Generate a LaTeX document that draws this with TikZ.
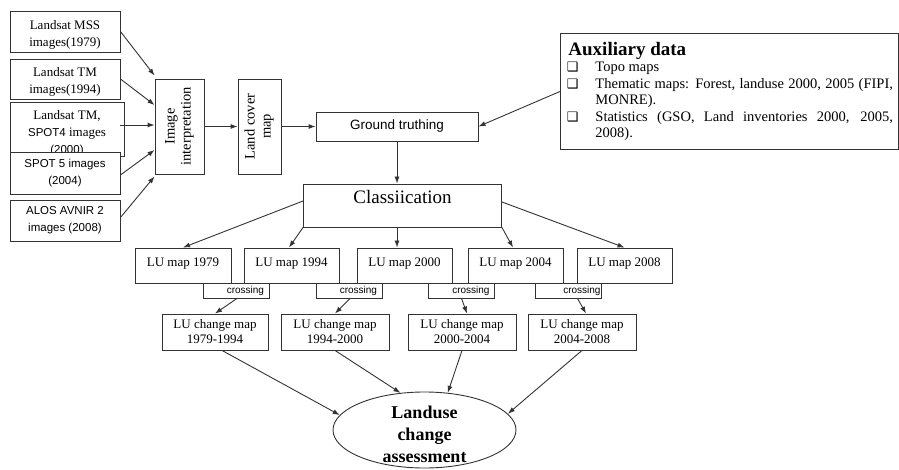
\documentclass[tikz,border=0pt]{standalone}
\usepackage{fontspec}
\setmainfont{Liberation Serif}
\newfontfamily\sansf{Liberation Sans}
\newfontfamily\dejavu{DejaVu Sans}
\usetikzlibrary{arrows.meta,shapes.geometric,calc}
\definecolor{ln}{HTML}{333333}
\newcommand\bul{{\dejavu\fontsize{13}{13}\selectfont ❑}}
\newcommand\fsz[2]{\fontsize{#1}{#2}\selectfont}
\newcommand\itm[1]{\hangindent=29.5pt\hangafter=1\noindent\makebox[29.5pt][l]{\hspace{1pt}\bul}#1\par}
\begin{document}
\begin{tikzpicture}[x=1pt,y=-1pt,
  box/.style={draw=ln, line width=0.9pt, fill=white, inner sep=0pt, align=center, font=\fsz{13}{17}},
  sbox/.style={box, font=\sansf\fsz{11.5}{17}},
  lumap/.style={box, minimum width=95pt, minimum height=35pt, text height=18.5pt, text depth=16.5pt, inner ysep=0pt},
  crossbox/.style={box, minimum width=66pt, minimum height=15pt, font=\sansf\fsz{10}{10}},
  chmap/.style={box, minimum width=108pt, minimum height=36pt, font=\fsz{13}{15}},
  arr/.style={draw=ln, line width=0.9pt, -{Latex[length=7pt,width=5pt]}}]
\useasboundingbox (0,0) rectangle (899,470);

% left input boxes
\node[box, minimum width=110pt, minimum height=41pt] (b1) at (65,31.5) {\rule{0pt}{15pt}Landsat MSS\\images(1979)};
\node[box, minimum width=110pt, minimum height=40pt] (b2) at (65,79) {\rule{0pt}{14pt}Landsat TM\\images(1994)};
\node[box, minimum width=114pt, minimum height=45pt, font=\fsz{13}{17}] (b3) at (67,129.5) {\rule{0pt}{17pt}Landsat TM,\\{\sansf\fsz{11.5}{16}SPOT4} images\\{\sansf\fsz{11.5}{16}(2000)}};
\node[sbox, minimum width=110pt, minimum height=42pt] (b4) at (65,173) {SPOT 5 images\\(2004)};
\node[sbox, minimum width=110pt, minimum height=41pt] (b5) at (65,220.5) {ALOS AVNIR 2\\images (2008)};

% processing chain
\node[box, minimum width=49pt, minimum height=95pt] (interp) at (179.5,126.5)
  {\rotatebox{90}{\fsz{14.5}{16}\begin{tabular}{@{}c@{}}Image\\interpretation\end{tabular}}};
\node[box, minimum width=43pt, minimum height=95pt] (lc) at (259.5,126.5)
  {\rotatebox{90}{\fsz{14.5}{16}\begin{tabular}{@{}c@{}}Land cover\\map\end{tabular}}};
\node[box, minimum width=162pt, minimum height=29pt, font=\sansf\fsz{13.5}{16}] (gt) at (397,126.5) {Ground truthing};

% auxiliary data
\node[box, anchor=north west, minimum width=338pt, minimum height=116pt, text width=327pt,
  inner xsep=5.5pt, align=justify, font=\fsz{14.5}{16.5}] (aux) at (560,33)
  {{\fsz{19}{22}\bfseries\hspace*{2.5pt}Auxiliary data\par}
   \itm{Topo maps}
   \itm{Thematic maps: Forest, landuse 2000, 2005 (FIPI,\linebreak MONRE).}
   \itm{Statistics (GSO, Land inventories 2000, 2005,\linebreak 2008).}};

% classification
\node[box, minimum width=198pt, minimum height=43pt, text height=20pt, text depth=23pt, inner ysep=0pt, font=\fsz{19}{22}] (cls) at (402.5,205.5) {Classiication};

% LU maps
\node[crossbox, align=right, text width=56pt] (c1) at (236,290.5) {crossing};
\node[crossbox, align=right, text width=56pt] (c2) at (349,290.5) {crossing};
\node[crossbox, align=right, text width=56pt] (c3) at (461.5,290.5) {crossing};
\node[crossbox, align=right, text width=64pt] (c4) at (568.5,290.5) {crossing};
\node[lumap, minimum width=96pt] (m79) at (183,265.5) {LU map 1979};
\node[lumap] (m94) at (291.5,265.5) {LU map 1994};
\node[lumap] (m00) at (404.5,265.5) {LU map 2000};
\node[lumap] (m04) at (515.5,265.5) {LU map 2004};
\node[lumap] (m08) at (624.5,265.5) {LU map 2008};

% change maps
\node[chmap, minimum width=106pt] (cm1) at (215,332) {LU change map\\1979-1994};
\node[chmap] (cm2) at (335,332) {LU change map\\1994-2000};
\node[chmap] (cm3) at (462,332) {LU change map\\2000-2004};
\node[chmap] (cm4) at (582,332) {LU change map\\2004-2008};

% assessment
\node[draw=ln, line width=0.9pt, ellipse, inner xsep=0pt, inner ysep=-25pt, minimum width=183pt, minimum height=76pt, align=center, font=\bfseries\fsz{18}{22}] (ell) at (424.5,430) {\rule{0pt}{22pt}Landuse\\change\\assessment};

% arrows
\draw[arr] (b1.east) -- ($(interp.north west)+(0,-3)$);
\draw[arr] (b2.east) -- ($(interp.west)+(0,-21.5)$);
\draw[arr] ($(b3.east)+(-4,-4.5)$) -- ($(interp.west)+(0,-1.5)$);
\draw[arr] ($(b4.east)+(0,2)$) -- ($(interp.west)+(0,23.5)$);
\draw[arr] ($(b5.east)+(0,-3)$) -- ($(interp.south west)+(0,2)$);
\draw[arr] (interp.east) -- (lc.west);
\draw[arr] (lc.east) -- (gt.west);
\draw[arr] (aux.west) -- (gt.east);
\draw[arr] (gt.south) -- (gt.south |- cls.north);
\draw[arr] ($(cls.west)+(0,-4.5)$) -- (m79.north);
\draw[arr] (cls.south west) -- ($(m94.north)+(-2.5,0)$);
\draw[arr] (gt.south |- cls.south) -- (gt.south |- m00.north);
\draw[arr] (cls.south east) -- ($(m04.north)+(-2.5,0)$);
\draw[arr] ($(cls.east)+(0,-3.5)$) -- (m08.north);
\draw[arr] ($(c1.south)+(1,0)$) -- (cm1.north);
\draw[arr] ($(c2.south)+(1,0)$) -- (cm2.north);
\draw[arr] (c3.south) -- ($(cm3.north)+(5,0)$);
\draw[arr] ($(c4.south)+(9,0)$) -- ($(cm4.north)+(4,0)$);
\draw[arr] ($(cm1.south)+(7,0)$) -- (ell.170);
\draw[arr] (cm2.south) -- (ell.123);
\draw[arr] (cm3.south) -- (ell.58);
\draw[arr] (cm4.south) -- (ell.11);
\end{tikzpicture}
\end{document}
